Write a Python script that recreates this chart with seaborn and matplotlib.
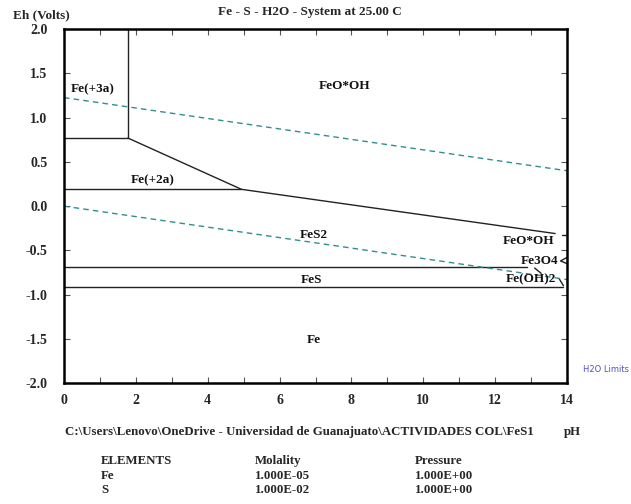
import numpy as np
import pandas as pd
import matplotlib
matplotlib.use("Agg")
import matplotlib.pyplot as plt
import seaborn as sns

# ---- data ----
title = "Fe - S - H2O - System at 25.00 C"
x_ticks = [0, 2, 4, 6, 8, 10, 12, 14]
y_ticks = [-2.0, -1.5, -1.0, -0.5, 0.0, 0.5, 1.0, 1.5, 2.0]

# solid stability-field boundaries (pH, Eh)
b_fe3_vert_x = [1.78, 1.78]
b_fe3_vert_y = [2.0, 0.77]
b_fe3_fe2_x = [0.0, 1.78]
b_fe3_fe2_y = [0.77, 0.77]
b_goethite_x = [1.78, 4.94, 13.67]
b_goethite_y = [0.77, 0.19, -0.31]
b_fe2_pyr_x = [0.0, 4.94]
b_fe2_pyr_y = [0.19, 0.19]
b_edge1_x = [13.85, 14.0]
b_edge1_y = [-0.33, -0.33]
b_pyr_fes_x = [0.0, 12.9]
b_pyr_fes_y = [-0.69, -0.69]
b_diag_x = [13.1, 13.28]
b_diag_y = [-0.70, -0.76]
b_fes_fe_x = [0.0, 13.9]
b_fes_fe_y = [-0.92, -0.92]
b_mark1_x = [14.0, 13.82, 14.0]
b_mark1_y = [-0.58, -0.62, -0.65]
b_mark2_x = [13.78, 13.9]
b_mark2_y = [-0.82, -0.90]

# water limits (dashed)
h2o_upper_x = [0.0, 14.0]
h2o_upper_y = [1.228, 0.40]
h2o_lower_x = [0.0, 14.0]
h2o_lower_y = [0.0, -0.83]

# field labels
labels = ["Fe(+3a)", "FeO*OH", "Fe(+2a)", "FeS2", "FeS", "Fe", "FeO*OH", "Fe3O4", "Fe(OH)2"]
label_x = [0.2, 7.8, 1.85, 6.95, 6.9, 6.95, 13.65, 13.75, 13.7]
label_y = [1.32, 1.36, 0.29, -0.33, -0.84, -1.51, -0.39, -0.62, -0.83]
label_ha = ["left", "center", "left", "center", "center", "center", "right", "right", "right"]

elements = ["Fe", "S"]
molality = ["1.000E-05", "1.000E-02"]
pressure = ["1.000E+00", "1.000E+00"]

# ---- figure ----
sns.set_style("ticks")
plt.rcParams["font.family"] = ["Liberation Serif", "DejaVu Serif"]
plt.rcParams["font.weight"] = "bold"

fig = plt.figure(figsize=(6.31, 5.04), dpi=100)
ax = fig.add_axes([0.1014, 0.2401, 0.7972, 0.7018])

solid = [
    (b_fe3_vert_x, b_fe3_vert_y), (b_fe3_fe2_x, b_fe3_fe2_y),
    (b_goethite_x, b_goethite_y), (b_fe2_pyr_x, b_fe2_pyr_y),
    (b_edge1_x, b_edge1_y), (b_pyr_fes_x, b_pyr_fes_y),
    (b_diag_x, b_diag_y), (b_fes_fe_x, b_fes_fe_y),
    (b_mark1_x, b_mark1_y), (b_mark2_x, b_mark2_y),
]
for xs, ys in solid:
    df = pd.DataFrame({"pH": xs, "Eh": ys})
    sns.lineplot(data=df, x="pH", y="Eh", ax=ax, color="#222222", lw=1.0,
                 sort=False, estimator=None)

for xs, ys in [(h2o_upper_x, h2o_upper_y), (h2o_lower_x, h2o_lower_y)]:
    df = pd.DataFrame({"pH": xs, "Eh": ys})
    sns.lineplot(data=df, x="pH", y="Eh", ax=ax, color="#2f8f8f", lw=1.0,
                 sort=False, estimator=None, linestyle=(0, (4, 3)))

for t, x, y, ha in zip(labels, label_x, label_y, label_ha):
    ax.text(x, y, t, ha=ha, va="center", fontsize=9.5, fontweight="bold", color="#111111")

ax.set_xlim(0, 14)
ax.set_ylim(-2, 2)
ax.set_xticks(x_ticks)
ax.set_yticks(y_ticks)
ax.set_xticks(np.arange(0, 15, 1), minor=True)
ax.set_xticklabels([str(v) for v in x_ticks], fontsize=10, fontweight="bold")
ax.set_yticklabels([f"{v:.1f}" for v in y_ticks], fontsize=10, fontweight="bold")
ax.tick_params(which="both", direction="in", top=True, right=True, length=4, width=0.8, color="#555555")
ax.tick_params(axis="x", pad=8)
ax.tick_params(axis="y", pad=12)
ax.set_xlabel("")
ax.set_ylabel("")
for s in ax.spines.values():
    s.set_linewidth(1.8)
    s.set_color("black")

fig.text(0.066, 0.970, "Eh (Volts)", ha="center", va="center", fontsize=9.5, fontweight="bold")
fig.text(0.491, 0.976, title, ha="center", va="center", fontsize=9.5, fontweight="bold")
fig.text(0.96, 0.266, "H2O Limits", ha="center", va="center", fontsize=6,
         color="#5050c8", family=["DejaVu Sans"], fontweight="normal")

fig.text(0.103, 0.143, r"C:\Users\Lenovo\OneDrive - Universidad de Guanajuato\ACTIVIDADES COL\FeS1",
         ha="left", va="center", fontsize=9.3, fontweight="bold")
fig.text(0.907, 0.143, "pH", ha="center", va="center", fontsize=9.3, fontweight="bold")

fig.text(0.160, 0.085, "ELEMENTS", ha="left", va="center", fontsize=9.3, fontweight="bold")
fig.text(0.404, 0.085, "Molality", ha="left", va="center", fontsize=9.3, fontweight="bold")
fig.text(0.658, 0.085, "Pressure", ha="left", va="center", fontsize=9.3, fontweight="bold")
for i, (e, m, p) in enumerate(zip(elements, molality, pressure)):
    yy = 0.056 - i * 0.028
    fig.text(0.160, yy, e, ha="left", va="center", fontsize=9.3, fontweight="bold")
    fig.text(0.404, yy, m, ha="left", va="center", fontsize=9.3, fontweight="bold")
    fig.text(0.658, yy, p, ha="left", va="center", fontsize=9.3, fontweight="bold")

fig.savefig("out.png", dpi=100, facecolor="white")
